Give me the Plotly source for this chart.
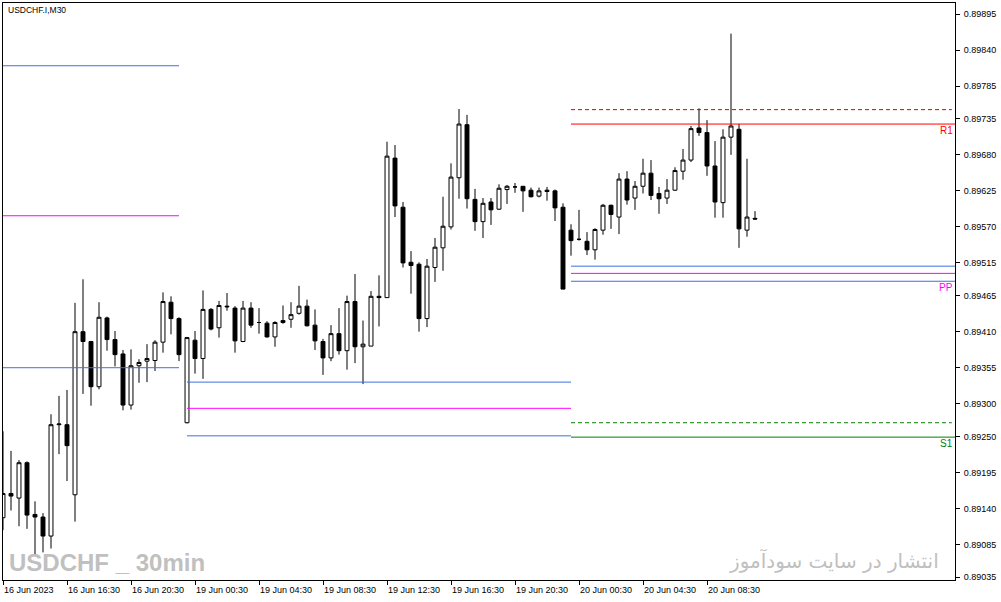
import plotly.graph_objects as go
import pandas as pd

# bar times: 16 Jun 12:30 .. 23:30, 19 Jun full day, 20 Jun 00:00 .. 11:30 (M30)
times = (
    list(pd.date_range("2023-06-16 12:30", "2023-06-16 23:30", freq="30min"))
    + list(pd.date_range("2023-06-19 00:00", "2023-06-19 23:30", freq="30min"))
    + list(pd.date_range("2023-06-20 00:00", "2023-06-20 11:30", freq="30min"))
)

opens = [
    0.89126, 0.89163, 0.89156, 0.89210, 0.89131, 0.89127, 0.89098, 0.89268, 0.89268, 0.89161,
    0.89410, 0.89395, 0.89326, 0.89431, 0.89398, 0.89376, 0.89298, 0.89358, 0.89365, 0.89366,
    0.89394, 0.89455, 0.89430, 0.89271, 0.89397, 0.89369, 0.89444, 0.89416, 0.89449, 0.89446,
    0.89395, 0.89446, 0.89424, 0.89423, 0.89402, 0.89424, 0.89429, 0.89438, 0.89449, 0.89420,
    0.89395, 0.89370, 0.89407, 0.89381, 0.89456, 0.89387, 0.89388, 0.89464, 0.89462, 0.89675,
    0.89600, 0.89516, 0.89513, 0.89430, 0.89508, 0.89538, 0.89570, 0.89645, 0.89726, 0.89612,
    0.89578, 0.89608, 0.89597, 0.89627, 0.89631, 0.89632, 0.89626, 0.89617, 0.89626, 0.89625,
    0.89600, 0.89565, 0.89551, 0.89548, 0.89535, 0.89565, 0.89603, 0.89585, 0.89643, 0.89614,
    0.89632, 0.89652, 0.89621, 0.89614, 0.89626, 0.89655, 0.89672, 0.89721, 0.89714, 0.89663,
    0.89607, 0.89707, 0.89719, 0.89565, 0.89583,
]
highs = [
    0.89258, 0.89228, 0.89214, 0.89212, 0.89151, 0.89133, 0.89284, 0.89312, 0.89321, 0.89454,
    0.89490, 0.89396, 0.89455, 0.89433, 0.89411, 0.89382, 0.89383, 0.89368, 0.89391, 0.89397,
    0.89470, 0.89464, 0.89432, 0.89402, 0.89411, 0.89473, 0.89446, 0.89457, 0.89469, 0.89449,
    0.89457, 0.89455, 0.89446, 0.89426, 0.89426, 0.89450, 0.89455, 0.89480, 0.89459, 0.89444,
    0.89399, 0.89420, 0.89446, 0.89465, 0.89498, 0.89427, 0.89472, 0.89496, 0.89700, 0.89695,
    0.89608, 0.89533, 0.89516, 0.89521, 0.89553, 0.89616, 0.89667, 0.89750, 0.89741, 0.89628,
    0.89614, 0.89614, 0.89635, 0.89634, 0.89637, 0.89632, 0.89630, 0.89630, 0.89631, 0.89627,
    0.89606, 0.89574, 0.89596, 0.89562, 0.89568, 0.89605, 0.89604, 0.89652, 0.89655, 0.89640,
    0.89674, 0.89672, 0.89631, 0.89643, 0.89661, 0.89689, 0.89724, 0.89751, 0.89733, 0.89701,
    0.89719, 0.89865, 0.89727, 0.89674, 0.89594,
]
lows = [
    0.89107, 0.89137, 0.89113, 0.89109, 0.89069, 0.89073, 0.89079, 0.89223, 0.89182, 0.89120,
    0.89315, 0.89297, 0.89322, 0.89381, 0.89357, 0.89290, 0.89291, 0.89332, 0.89333, 0.89350,
    0.89378, 0.89406, 0.89365, 0.89270, 0.89346, 0.89338, 0.89412, 0.89401, 0.89442, 0.89378,
    0.89394, 0.89416, 0.89407, 0.89401, 0.89387, 0.89422, 0.89416, 0.89436, 0.89418, 0.89382,
    0.89344, 0.89365, 0.89375, 0.89352, 0.89362, 0.89330, 0.89388, 0.89418, 0.89462, 0.89585,
    0.89508, 0.89468, 0.89410, 0.89417, 0.89486, 0.89503, 0.89566, 0.89613, 0.89598, 0.89564,
    0.89553, 0.89573, 0.89596, 0.89605, 0.89622, 0.89593, 0.89615, 0.89615, 0.89610, 0.89579,
    0.89475, 0.89526, 0.89549, 0.89527, 0.89520, 0.89558, 0.89567, 0.89559, 0.89604, 0.89596,
    0.89621, 0.89611, 0.89590, 0.89605, 0.89625, 0.89642, 0.89669, 0.89709, 0.89648, 0.89584,
    0.89584, 0.89680, 0.89538, 0.89555, 0.89581,
]
closes = [
    0.89163, 0.89159, 0.89210, 0.89130, 0.89127, 0.89098, 0.89268, 0.89269, 0.89236, 0.89410,
    0.89395, 0.89326, 0.89432, 0.89398, 0.89375, 0.89298, 0.89358, 0.89363, 0.89369, 0.89394,
    0.89456, 0.89430, 0.89375, 0.89401, 0.89369, 0.89444, 0.89414, 0.89450, 0.89448, 0.89396,
    0.89446, 0.89420, 0.89424, 0.89402, 0.89424, 0.89427, 0.89436, 0.89449, 0.89419, 0.89396,
    0.89370, 0.89407, 0.89381, 0.89456, 0.89387, 0.89391, 0.89464, 0.89462, 0.89678, 0.89602,
    0.89515, 0.89511, 0.89430, 0.89510, 0.89539, 0.89571, 0.89646, 0.89727, 0.89613, 0.89578,
    0.89606, 0.89596, 0.89629, 0.89632, 0.89631, 0.89625, 0.89616, 0.89625, 0.89624, 0.89599,
    0.89475, 0.89549, 0.89551, 0.89535, 0.89566, 0.89603, 0.89589, 0.89643, 0.89611, 0.89632,
    0.89652, 0.89618, 0.89613, 0.89626, 0.89656, 0.89672, 0.89720, 0.89714, 0.89663, 0.89608,
    0.89707, 0.89724, 0.89567, 0.89585, 0.89582,
]

# daily pivot levels drawn by the indicator: (first bar, last bar, level, colour, dash)
pivot_lines = [
    (0, 22, 0.89816, "#3f6fe0", "solid"),
    (0, 22, 0.89587, "#ff00ff", "solid"),
    (0, 22, 0.89355, "#3f6fe0", "solid"),
    (23, 71, 0.89333, "#3f6fe0", "solid"),
    (23, 71, 0.89293, "#ff00ff", "solid"),
    (23, 71, 0.89251, "#3f6fe0", "solid"),
    (71, 118.6, 0.89749, "#e00000", "dash"),
    (71, 119, 0.89727, "#ff0000", "solid"),
    (71, 119, 0.89510, "#3f6fe0", "solid"),
    (71, 119, 0.89499, "#ff00ff", "solid"),
    (71, 119, 0.89487, "#3f6fe0", "solid"),
    (71, 118.6, 0.89271, "#008000", "dash"),
    (71, 119, 0.89249, "#008000", "solid"),
]
level_labels = [("R1", 0.89727, "#ff0000"), ("PP", 0.89487, "#ff00ff"), ("S1", 0.89249, "#008000")]

price_ticks = [
    "0.89895", "0.89840", "0.89785", "0.89735", "0.89680", "0.89625", "0.89570", "0.89515",
    "0.89465", "0.89410", "0.89355", "0.89300", "0.89250", "0.89195", "0.89140", "0.89085", "0.89035",
]
time_ticks = [
    "16 Jun 2023", "16 Jun 16:30", "16 Jun 20:30", "19 Jun 00:30", "19 Jun 04:30", "19 Jun 08:30",
    "19 Jun 12:30", "19 Jun 16:30", "19 Jun 20:30", "20 Jun 00:30", "20 Jun 04:30", "20 Jun 08:30",
]

FONT = "Liberation Sans, Arial, sans-serif"
bars = list(range(len(times)))
tick_bars = bars[::8][: len(time_ticks)]

fig = go.Figure()

fig.add_trace(
    go.Candlestick(
        x=bars,
        open=opens,
        high=highs,
        low=lows,
        close=closes,
        increasing={"line": {"color": "black", "width": 1}, "fillcolor": "white"},
        decreasing={"line": {"color": "black", "width": 1}, "fillcolor": "black"},
        whiskerwidth=0,
        showlegend=False,
        hoverinfo="skip",
    )
)

for x0, x1, level, color, dash in pivot_lines:
    fig.add_trace(
        go.Scatter(
            x=[x0, x1],
            y=[level, level],
            mode="lines",
            line={"color": color, "width": 1, "dash": "4px,3px" if dash == "dash" else "solid"},
            showlegend=False,
            hoverinfo="skip",
        )
    )

for name, level, color in level_labels:
    fig.add_annotation(
        x=1, xref="paper", xanchor="right", y=level, yref="y", yanchor="top",
        text=name, showarrow=False, font={"family": FONT, "size": 10, "color": color},
        borderpad=0, xshift=-1,
    )

for b, label in zip(tick_bars, time_ticks):
    fig.add_annotation(
        x=b, xref="x", xanchor="left", y=0, yref="paper", yanchor="top", yshift=-4,
        text=label, showarrow=False, font={"family": FONT, "size": 9, "color": "black"},
        borderpad=0,
    )

fig.add_annotation(
    x=0.0042, xref="paper", xanchor="left", y=0.988, yref="paper", yanchor="middle",
    text="USDCHF.I,M30", showarrow=False, font={"family": FONT, "size": 8.5, "color": "black"},
    borderpad=0,
)
fig.add_annotation(
    x=0.005, xref="paper", xanchor="left", y=0.031, yref="paper", yanchor="middle",
    text="<b>USDCHF _ 30min</b>", showarrow=False,
    font={"family": FONT, "size": 24, "color": "#c0c0c0"}, borderpad=0,
)
fig.add_annotation(
    x=0.984, xref="paper", xanchor="right", y=0.033, yref="paper", yanchor="middle",
    text="انتشار در سایت سودآموز", showarrow=False,
    font={"family": "DejaVu Sans", "size": 20, "color": "#c0c0c0"}, borderpad=0,
)

fig.update_layout(
    width=1001,
    height=602,
    margin={"l": 3, "r": 46, "t": 3, "b": 22, "autoexpand": False},
    paper_bgcolor="white",
    plot_bgcolor="white",
    showlegend=False,
    hovermode=False,
)
fig.update_xaxes(
    range=[0, 119],
    rangeslider={"visible": False},
    automargin=False,
    showgrid=False,
    zeroline=False,
    showline=True,
    mirror=True,
    linecolor="black",
    linewidth=1,
    ticks="outside",
    ticklen=4,
    tickcolor="black",
    tickvals=tick_bars,
    showticklabels=False,
)
fig.update_yaxes(
    side="right",
    range=[0.890309, 0.899118],
    automargin=False,
    showgrid=False,
    zeroline=False,
    showline=True,
    mirror=True,
    linecolor="black",
    linewidth=1,
    ticks="outside",
    ticklen=4,
    tickcolor="black",
    ticklabelstandoff=2,
    tickvals=[float(t) for t in price_ticks],
    ticktext=price_ticks,
    tickfont={"family": FONT, "size": 9, "color": "black"},
)

# the page body has a default 8px margin; drop it so the figure sits at the window corner
fig.write_html(
    "out.html",
    config={"displayModeBar": False},
    post_script="document.body.style.margin = '0';",
)
